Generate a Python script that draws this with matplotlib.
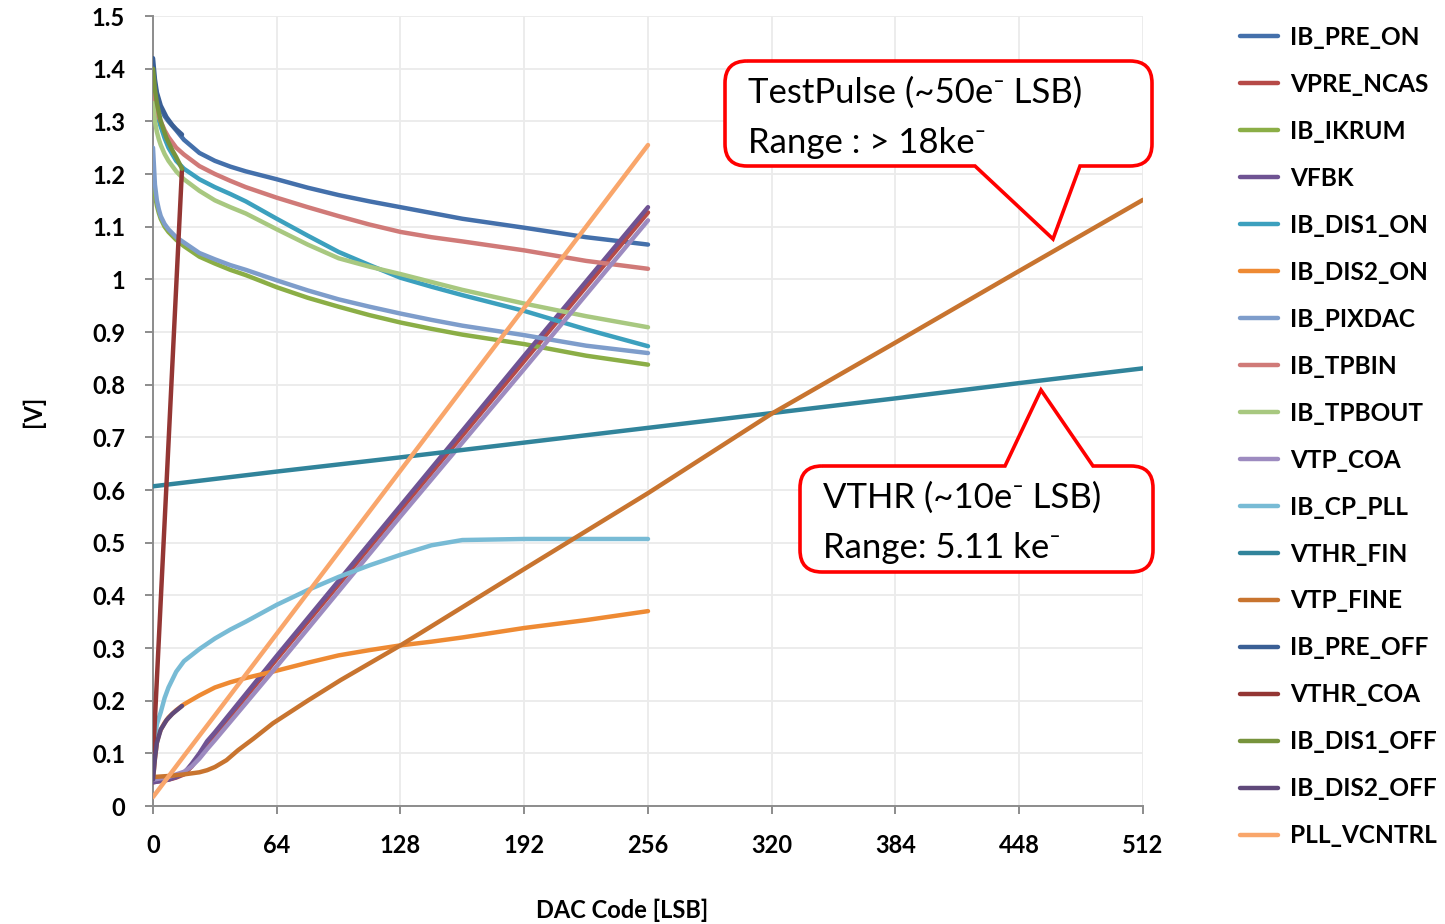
import numpy as np
import matplotlib
matplotlib.use("Agg")
import matplotlib.pyplot as plt
from matplotlib.path import Path
from matplotlib.patches import PathPatch
from matplotlib.ticker import FuncFormatter

plt.rcParams['font.family'] = ['Lato', 'DejaVu Sans']

# ---- data ----
x_dec = [0, 1, 2, 3, 4, 6, 8, 12, 16, 24, 32, 40, 48, 64, 80, 96, 112, 128, 144, 160, 192, 224, 256]
ib_pre_on = [1.40, 1.37, 1.35, 1.336, 1.325, 1.31, 1.30, 1.283, 1.265, 1.24, 1.225, 1.214, 1.205, 1.19, 1.174, 1.16, 1.148, 1.137, 1.126, 1.115, 1.098, 1.08, 1.066]
ib_tpbin = [1.37, 1.34, 1.32, 1.308, 1.30, 1.283, 1.27, 1.25, 1.237, 1.215, 1.20, 1.187, 1.175, 1.155, 1.137, 1.12, 1.104, 1.09, 1.08, 1.072, 1.055, 1.035, 1.02]
ib_dis1_on = [1.38, 1.35, 1.32, 1.302, 1.29, 1.268, 1.25, 1.225, 1.21, 1.19, 1.175, 1.162, 1.148, 1.115, 1.083, 1.052, 1.027, 1.003, 0.986, 0.97, 0.94, 0.905, 0.873]
ib_tpbout = [1.335, 1.30, 1.28, 1.266, 1.255, 1.238, 1.225, 1.205, 1.19, 1.168, 1.15, 1.137, 1.125, 1.095, 1.066, 1.04, 1.024, 1.01, 0.995, 0.98, 0.954, 0.93, 0.909]
ib_pixdac = [1.25, 1.18, 1.15, 1.133, 1.12, 1.105, 1.095, 1.08, 1.07, 1.05, 1.038, 1.027, 1.018, 0.998, 0.979, 0.962, 0.948, 0.935, 0.923, 0.912, 0.894, 0.874, 0.86]
ib_ikrum = [1.20, 1.16, 1.14, 1.126, 1.115, 1.10, 1.09, 1.075, 1.063, 1.043, 1.03, 1.018, 1.008, 0.985, 0.965, 0.948, 0.932, 0.918, 0.906, 0.895, 0.877, 0.855, 0.838]
ib_dis2_on = [0.05, 0.09, 0.12, 0.135, 0.145, 0.158, 0.168, 0.182, 0.193, 0.21, 0.225, 0.235, 0.243, 0.257, 0.272, 0.286, 0.296, 0.305, 0.312, 0.32, 0.338, 0.353, 0.37]
ib_cp_pll = [0.08, 0.13, 0.155, 0.167, 0.178, 0.205, 0.225, 0.255, 0.275, 0.298, 0.318, 0.335, 0.35, 0.382, 0.41, 0.435, 0.457, 0.477, 0.495, 0.505, 0.507, 0.507, 0.507]

x_lin = [0, 8, 12, 16, 20, 24, 28, 32, 64, 128, 192, 256]
vfbk = [0.045, 0.05, 0.055, 0.062, 0.08, 0.10, 0.123, 0.14, 0.285, 0.57, 0.855, 1.137]
vpre_ncas = [0.045, 0.05, 0.054, 0.06, 0.075, 0.095, 0.117, 0.135, 0.279, 0.562, 0.845, 1.127]
vtp_coa = [0.05, 0.055, 0.06, 0.065, 0.075, 0.09, 0.108, 0.125, 0.265, 0.55, 0.83, 1.112]

x_pll = [0, 16, 32, 64, 96, 128, 160, 192, 224, 256]
pll_vcntrl = [0.017, 0.095, 0.172, 0.327, 0.482, 0.637, 0.792, 0.946, 1.10, 1.255]

x_full = [0, 64, 128, 192, 256, 320, 384, 448, 512]
vthr_fin = [0.607, 0.635, 0.662, 0.69, 0.718, 0.746, 0.774, 0.803, 0.831]

x_fine = [0, 8, 16, 24, 28, 32, 38, 44, 52, 62, 80, 97, 128, 192, 256, 320, 384, 448, 512]
vtp_fine = [0.055, 0.057, 0.06, 0.064, 0.068, 0.074, 0.087, 0.106, 0.128, 0.157, 0.20, 0.239, 0.305, 0.45, 0.594, 0.745, 0.88, 1.016, 1.151]

x_off = [0, 1, 2, 4, 7, 10, 12, 15]
ib_pre_off = [1.42, 1.38, 1.355, 1.33, 1.308, 1.293, 1.285, 1.275]
vthr_coa = [0.09, 0.165, 0.24, 0.39, 0.613, 0.837, 0.986, 1.21]
ib_dis1_off = [1.40, 1.36, 1.335, 1.30, 1.268, 1.245, 1.232, 1.21]
ib_dis2_off = [0.05, 0.09, 0.12, 0.145, 0.163, 0.175, 0.181, 0.19]

series = [
    ("IB_PRE_ON", x_dec, ib_pre_on, "#4470AB"),
    ("VPRE_NCAS", x_lin, vpre_ncas, "#B64A47"),
    ("IB_IKRUM", x_dec, ib_ikrum, "#8BAE46"),
    ("VFBK", x_lin, vfbk, "#6F5393"),
    ("IB_DIS1_ON", x_dec, ib_dis1_on, "#3CA0BE"),
    ("IB_DIS2_ON", x_dec, ib_dis2_on, "#EE8A33"),
    ("IB_PIXDAC", x_dec, ib_pixdac, "#7E9DCB"),
    ("IB_TPBIN", x_dec, ib_tpbin, "#D07A78"),
    ("IB_TPBOUT", x_dec, ib_tpbout, "#A8C880"),
    ("VTP_COA", x_lin, vtp_coa, "#9D8BC0"),
    ("IB_CP_PLL", x_dec, ib_cp_pll, "#78BBD5"),
    ("VTHR_FIN", x_full, vthr_fin, "#31849B"),
    ("VTP_FINE", x_fine, vtp_fine, "#C8742F"),
    ("IB_PRE_OFF", x_off, ib_pre_off, "#3A5F95"),
    ("VTHR_COA", x_off, vthr_coa, "#943634"),
    ("IB_DIS1_OFF", x_off, ib_dis1_off, "#77933C"),
    ("IB_DIS2_OFF", x_off, ib_dis2_off, "#5F497A"),
    ("PLL_VCNTRL", x_pll, pll_vcntrl, "#F9A66B"),
]

x_ticks = [0, 64, 128, 192, 256, 320, 384, 448, 512]
y_ticks = [0, 0.1, 0.2, 0.3, 0.4, 0.5, 0.6, 0.7, 0.8, 0.9, 1, 1.1, 1.2, 1.3, 1.4, 1.5]

W, H = 1445, 924
fig = plt.figure(figsize=(W / 100, H / 100), dpi=100)
ax = fig.add_axes([153 / W, 1 - 806 / H, 990 / W, 790 / H])

for i, (name, xs, ys, col) in enumerate(series):
    ax.plot(xs, ys, color=col, lw=3.2, label=name, zorder=3 + i * 0.01,
            solid_capstyle='round', solid_joinstyle='round')

ax.set_xlim(0, 512)
ax.set_ylim(0, 1.5)
ax.set_xticks(x_ticks)
ax.set_yticks(y_ticks)
ax.yaxis.set_major_formatter(FuncFormatter(lambda v, p: "%g" % v))
ax.grid(True, color="#EBEBEB", lw=1.3, zorder=0)
ax.set_axisbelow(True)
for s in ["top", "right"]:
    ax.spines[s].set_visible(False)
for s in ["left", "bottom"]:
    ax.spines[s].set_color("#8C8C8C")
    ax.spines[s].set_linewidth(1.4)
ax.tick_params(direction="out", length=6, width=1.4, color="#8C8C8C",
               labelsize=17, pad=14)
for lab in ax.get_xticklabels() + ax.get_yticklabels():
    lab.set_fontweight("bold")

ax.set_xlabel("DAC Code [LSB]", fontsize=17, fontweight="bold", labelpad=30)
ax.xaxis.label.set_x(0.474)
ax.set_ylabel("[V]", fontsize=17, fontweight="bold", labelpad=34)

leg = ax.legend(loc="upper left", bbox_to_anchor=(1240 / W, 1 - 26 / H),
                bbox_transform=fig.transFigure, frameon=False,
                prop={"weight": "bold", "size": 17.6}, handlelength=1.55,
                handletextpad=0.5, labelspacing=0.98, borderpad=0,
                borderaxespad=0)
for ln in leg.get_lines():
    ln.set_linewidth(3.2)


def callout(x0, y0, x1, y1, r, b0, b1, tip, side):
    # pixel coords, y downwards
    v = [(x0 + r, y0)]
    c = [Path.MOVETO]
    if side == "top":
        v += [(b0, y0), tip, (b1, y0)]
        c += [Path.LINETO] * 3
    v += [(x1 - r, y0), (x1, y0), (x1, y0 + r), (x1, y1 - r), (x1, y1), (x1 - r, y1)]
    c += [Path.LINETO, Path.CURVE3, Path.CURVE3, Path.LINETO, Path.CURVE3, Path.CURVE3]
    if side == "bottom":
        v += [(b1, y1), tip, (b0, y1)]
        c += [Path.LINETO] * 3
    v += [(x0 + r, y1), (x0, y1), (x0, y1 - r), (x0, y0 + r), (x0, y0), (x0 + r, y0)]
    c += [Path.LINETO, Path.CURVE3, Path.CURVE3, Path.LINETO, Path.CURVE3, Path.CURVE3]
    v = [(a / W, 1 - b / H) for a, b in v]
    p = PathPatch(Path(v, c), transform=fig.transFigure, facecolor="white",
                  edgecolor="#FF0000", lw=2.6, joinstyle="miter", zorder=10)
    fig.add_artist(p)


callout(725, 61, 1152, 166, 22, 975, 1080, (1053, 239), "bottom")
callout(800, 466, 1153, 572, 22, 1005, 1093, (1041, 390), "top")

tfont = dict(fontsize=25, color="black", va="baseline", ha="left", zorder=11)
fig.text(748 / W, 1 - 103 / H, "TestPulse (~50e\u207b LSB)", **tfont)
fig.text(748 / W, 1 - 153 / H, "Range : > 18ke\u207b", **tfont)
fig.text(823 / W, 1 - 508 / H, "VTHR (~10e\u207b LSB)", **tfont)
fig.text(823 / W, 1 - 558 / H, "Range: 5.11 ke\u207b", **tfont)

fig.savefig("out.png", dpi=100)
